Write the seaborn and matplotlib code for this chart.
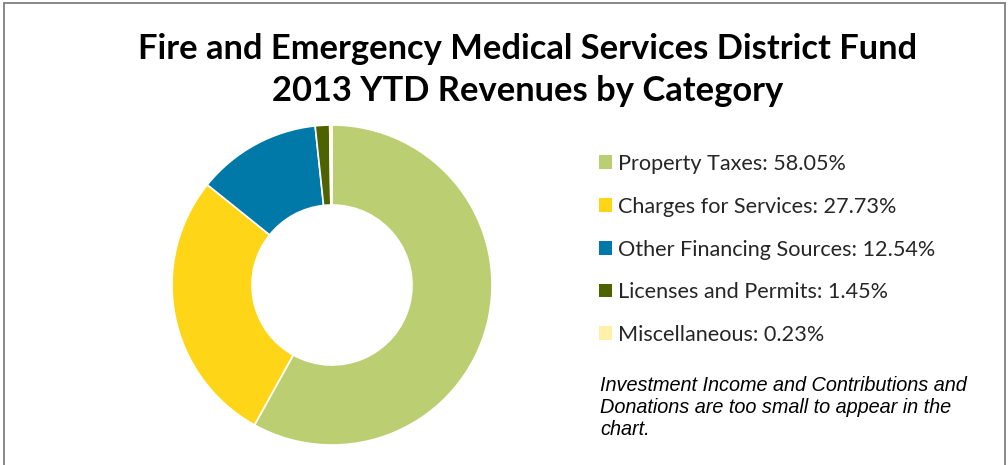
import matplotlib
matplotlib.use("Agg")
import matplotlib.pyplot as plt
import seaborn as sns
from matplotlib.patches import Patch
from matplotlib.lines import Line2D

# data
categories = ["Property Taxes", "Charges for Services", "Other Financing Sources",
              "Licenses and Permits", "Miscellaneous"]
shares = [58.05, 27.73, 12.54, 1.45, 0.23]
colors = ["#BBCE72", "#FFD617", "#0079A8", "#4E6300", "#FFF1AA"]

title = "Fire and Emergency Medical Services District Fund\n2013 YTD Revenues by Category"
note = ("Investment Income and Contributions and\n"
        "Donations are too small to appear in the\nchart.")

sns.set_theme(style="white")
plt.rcParams["font.family"] = ["Lato", "DejaVu Sans"]

fig = plt.figure(figsize=(10.08, 4.65), dpi=100)

# donut
ax = fig.add_axes([172 / 1008, 20 / 465, 320 / 1008, 320 / 465])
wedges, _ = ax.pie(shares, colors=colors, startangle=90, counterclock=False,
                   radius=1.0,
                   wedgeprops=dict(width=0.5, edgecolor="white", linewidth=1.2))
ax.set_xlim(-1, 1)
ax.set_ylim(-1, 1)
ax.set_aspect("equal")
ax.axis("off")

# title
fig.text(528 / 1008, 1 - 70 / 465, title, ha="center", va="center",
         fontsize=24.8, fontweight="bold", linespacing=1.38, color="black")

# legend
handles = [Patch(facecolor=c, edgecolor="none") for c in colors]
labels = [f"{n}: {v:.2f}%" for n, v in zip(categories, shares)]
leg = fig.legend(handles, labels, loc="upper left",
                 bbox_to_anchor=(599 / 1008, 1 - 154 / 465),
                 frameon=False, fontsize=15.6, handlelength=0.6,
                 handleheight=0.6, handletextpad=0.3, labelspacing=1.05,
                 borderpad=0, borderaxespad=0)

# footnote
fig.text(600 / 1008, 1 - 376 / 465, note, ha="left", va="top",
         fontsize=14.3, style="italic", family="Liberation Sans",
         linespacing=1.2, color="black")

# outer chart border (left, top, right)
bc = "#7F7F7F"
fig.add_artist(Line2D([3.5 / 1008, 3.5 / 1008], [0, 1 - 3.5 / 465],
                      transform=fig.transFigure, color=bc, lw=1.3))
fig.add_artist(Line2D([3.5 / 1008, 1004.5 / 1008], [1 - 3.5 / 465, 1 - 3.5 / 465],
                      transform=fig.transFigure, color=bc, lw=1.3))
fig.add_artist(Line2D([1004.5 / 1008, 1004.5 / 1008], [0, 1 - 3.5 / 465],
                      transform=fig.transFigure, color=bc, lw=1.3))

fig.savefig("out.png", dpi=100, facecolor="white")
